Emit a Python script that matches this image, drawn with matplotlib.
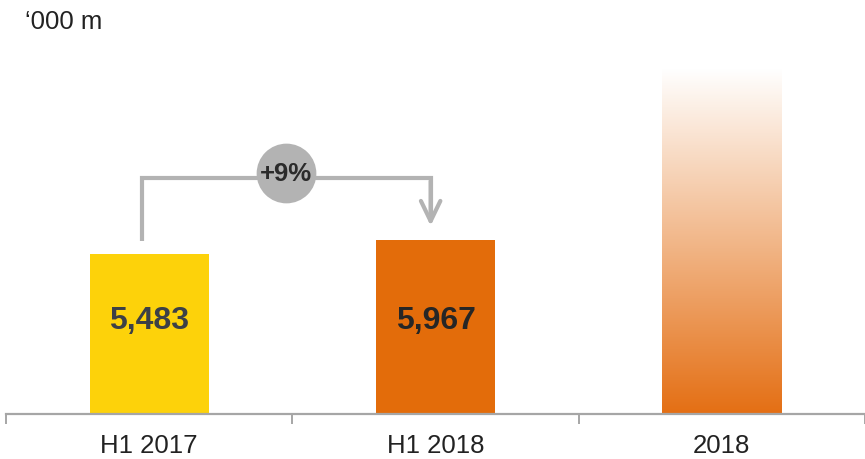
import matplotlib
matplotlib.use("Agg")
import matplotlib.pyplot as plt
import numpy as np
from matplotlib.colors import LinearSegmentedColormap

plt.rcParams['font.family'] = ['Liberation Sans', 'DejaVu Sans']

categories = ["H1 2017", "H1 2018", "2018"]
values = [5483, 5967, 11850]
value_labels = ["5,483", "5,967", ""]
change_label = "+9%"
unit_label = "\u2018000 m"

yellow = "#FDD20A"
orange = "#E36C0A"
grey = "#B3B3B3"
axis_grey = "#A6A6A6"
label_colors = ["#3C4046", "#262626"]

W, H = 865, 460
fig = plt.figure(figsize=(W / 100, H / 100), dpi=100)
base_px = 415
ax = fig.add_axes([6 / W, (H - base_px) / H, 1 - 6 / W, base_px / H])
units_per_px = 34.27
ax.set_ylim(0, base_px * units_per_px)
ax.set_xlim(-0.5, -0.5 + (W - 6) / 288)

x = np.arange(len(categories))
bw = 120 / 288
bars = ax.bar(x[:2], values[:2], width=bw, color=[yellow, orange], zorder=2)
gbar = ax.bar(x[2], values[2], width=bw, facecolor='none', edgecolor='none', zorder=2)[0]

# gradient for forecast bar
cmap = LinearSegmentedColormap.from_list("g", ["#E46F14", "#FFFFFF"])
grad = np.linspace(0, 1, 256).reshape(-1, 1)
im = ax.imshow(grad, cmap=cmap, aspect='auto', origin='lower',
               extent=[x[2] - bw / 2, x[2] + bw / 2, 0, values[2]], zorder=2)
im.set_clip_path(gbar)

# value labels
label_y = 0.585 * min(values[:2])
for xi, lab, c in zip(x[:2], value_labels[:2], label_colors):
    ax.text(xi, label_y, lab, ha='center', va='center', fontsize=23,
            fontweight='bold', color=c, zorder=3)

# bracket with change
lx = x[0] - 0.025
rx = x[1] - 0.017
ytop = max(values[:2]) + 2120
ystart = values[0] + 450
ytip = values[1] + 480
ax.plot([lx, lx, rx, rx], [ystart, ytop, ytop, ytip + 300], color=grey, lw=3,
        solid_joinstyle='miter', solid_capstyle='butt', zorder=3)
ax.annotate("", xy=(rx, ytip), xytext=(rx, ytop - 100),
            arrowprops=dict(arrowstyle="->,head_length=1.45,head_width=0.7",
                            color=grey, lw=3, shrinkA=0, shrinkB=0), zorder=3)
cx = (x[0] + x[1]) / 2 - 0.022
cy = ytop + 170
ax.scatter([cx], [cy], s=43 ** 2, color=grey, zorder=4, linewidths=0)
ax.text(cx, cy, change_label, ha='center', va='center', fontsize=18.5,
        fontweight='bold', color='#2B2B2B', zorder=5)

# axes styling
for s in ['top', 'right', 'left']:
    ax.spines[s].set_visible(False)
ax.spines['bottom'].set_color(axis_grey)
ax.spines['bottom'].set_linewidth(1.6)
ax.set_yticks([])
ax.set_xticks([-0.5, 0.5, 1.5, 2.5])
ax.set_xticklabels([])
ax.tick_params(axis='x', which='major', length=7, width=1.4, color=axis_grey)
ax.set_xticks(x, minor=True)
ax.set_xticklabels(categories, minor=True)
ax.tick_params(axis='x', which='minor', length=0, pad=13.5, labelsize=18.5,
               labelcolor='#222222')
ax.patch.set_visible(False)

fig.text(25 / W, 1 - 22 / H, unit_label, ha='left', va='center', fontsize=18.5,
         color='#222222')

fig.savefig("out.png", dpi=100)
